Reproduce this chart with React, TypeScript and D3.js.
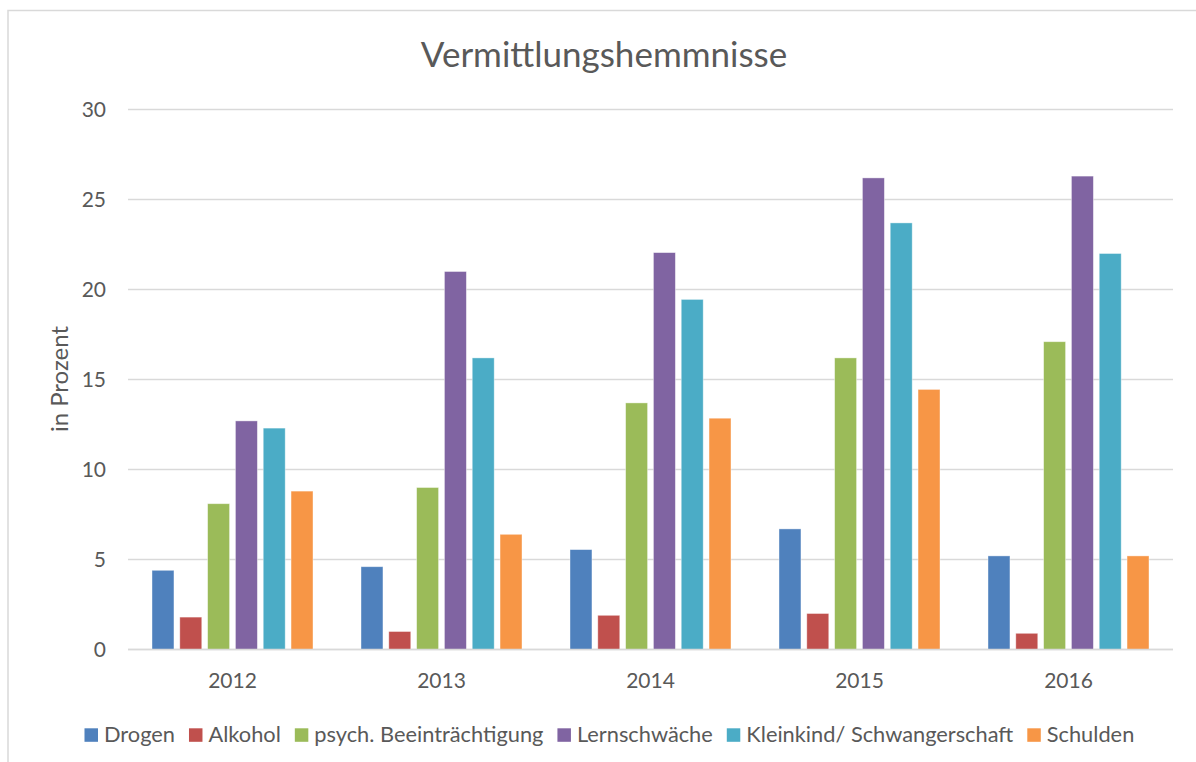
import React, { useEffect, useRef } from 'react';
import * as d3 from 'd3';

const years = ['2012', '2013', '2014', '2015', '2016'];
const seriesNames = ['Drogen', 'Alkohol', 'psych. Beeinträchtigung', 'Lernschwäche', 'Kleinkind/ Schwangerschaft', 'Schulden'];
const drogen = [4.4, 4.6, 5.55, 6.7, 5.2];
const alkohol = [1.8, 1.0, 1.9, 2.0, 0.9];
const psych = [8.1, 9.0, 13.7, 16.2, 17.1];
const lernschwaeche = [12.7, 21.0, 22.05, 26.2, 26.3];
const kleinkind = [12.3, 16.2, 19.45, 23.7, 22.0];
const schulden = [8.8, 6.4, 12.85, 14.45, 5.2];
const yTicks = [0, 5, 10, 15, 20, 25, 30];
const colors = ['#4F81BD', '#C0504D', '#9BBB59', '#8064A2', '#4BACC6', '#F79646'];

const title = 'Vermittlungshemmnisse';
const yTitle = 'in Prozent';

const W = 1196;
const H = 762;
const FONT = 'Lato, "Open Sans", sans-serif';
const TEXT = '#595959';
const GRID = '#d9d9d9';

export default function App() {
  const ref = useRef<SVGSVGElement | null>(null);

  useEffect(() => {
    const svg = d3.select(ref.current);
    svg.selectAll('*').remove();
    const values = [drogen, alkohol, psych, lernschwaeche, kleinkind, schulden];

    const left = 128, right = 1173, top = 109.5, bottom = 649.5;
    const y = d3.scaleLinear().domain([0, 30]).range([bottom, top]);
    const x0 = d3.scaleBand<string>().domain(years).range([left, right]).padding(0);
    const x1 = d3.scaleBand<string>().domain(seriesNames).range([0, x0.bandwidth()])
      .paddingInner(0.21).paddingOuter(0.863);

    // chart border
    svg.append('rect').attr('x', 8).attr('y', 10.5).attr('width', 1200).attr('height', 800)
      .attr('fill', '#fff').attr('stroke', GRID).attr('stroke-width', 1.5);

    // title
    svg.append('text').attr('x', 604).attr('y', 66.7).attr('text-anchor', 'middle')
      .attr('font-family', FONT).attr('font-size', 35).attr('fill', TEXT).text(title);

    // gridlines
    svg.append('g').selectAll('line').data(yTicks).join('line')
      .attr('x1', left).attr('x2', right)
      .attr('y1', d => y(d)).attr('y2', d => y(d))
      .attr('stroke', GRID).attr('stroke-width', 1.3);

    // y tick labels
    svg.append('g').selectAll('text').data(yTicks).join('text')
      .attr('x', 106).attr('y', d => y(d) + 7.6).attr('text-anchor', 'end')
      .attr('font-family', FONT).attr('font-size', 21).attr('fill', TEXT)
      .text(d => String(d));

    // y title
    svg.append('text').attr('transform', `translate(68,379) rotate(-90)`)
      .attr('text-anchor', 'middle').attr('font-family', FONT).attr('font-size', 24)
      .attr('fill', TEXT).text(yTitle);

    // bars
    const groups = svg.append('g').selectAll('g').data(years).join('g')
      .attr('transform', d => `translate(${x0(d)},0)`);
    groups.selectAll('rect').data((_, i) => seriesNames.map((s, k) => ({ s, k, v: values[k][i] })))
      .join('rect')
      .attr('x', d => x1(d.s) as number)
      .attr('width', x1.bandwidth())
      .attr('y', d => y(d.v))
      .attr('height', d => y(0) - y(d.v))
      .attr('fill', d => colors[d.k])
      .attr('stroke', '#ffffff').attr('stroke-opacity', 0.5).attr('stroke-width', 0.8);

    // baseline again on top
    svg.append('line').attr('x1', left).attr('x2', right).attr('y1', y(0)).attr('y2', y(0))
      .attr('stroke', GRID).attr('stroke-width', 1.3);

    // x labels
    svg.append('g').selectAll('text').data(years).join('text')
      .attr('x', d => (x0(d) as number) + x0.bandwidth() / 2).attr('y', 688.3)
      .attr('text-anchor', 'middle').attr('font-family', FONT).attr('font-size', 21)
      .attr('fill', TEXT).text(d => d);

    // legend
    const lg = svg.append('g');
    const items = seriesNames.map((name, k) => {
      const g = lg.append('g');
      g.append('rect').attr('width', 13.5).attr('height', 13.5).attr('y', 728.3).attr('fill', colors[k]);
      const t = g.append('text').attr('x', 19.5).attr('y', 742.2).attr('font-family', FONT)
        .attr('font-size', 21.8).attr('fill', TEXT).text(name);
      const w = (t.node() as SVGTextElement).getComputedTextLength();
      return { g, w: 19.5 + w };
    });
    const gap = 14;
    const total = d3.sum(items, d => d.w) + gap * (items.length - 1);
    let cx = 609.4 - total / 2;
    items.forEach(it => {
      it.g.attr('transform', `translate(${cx},0)`);
      cx += it.w + gap;
    });
  }, []);

  return (
    <svg ref={ref} width={W} height={H} style={{ position: 'absolute', left: 0, top: 0, background: '#fff' }} />
  );
}
